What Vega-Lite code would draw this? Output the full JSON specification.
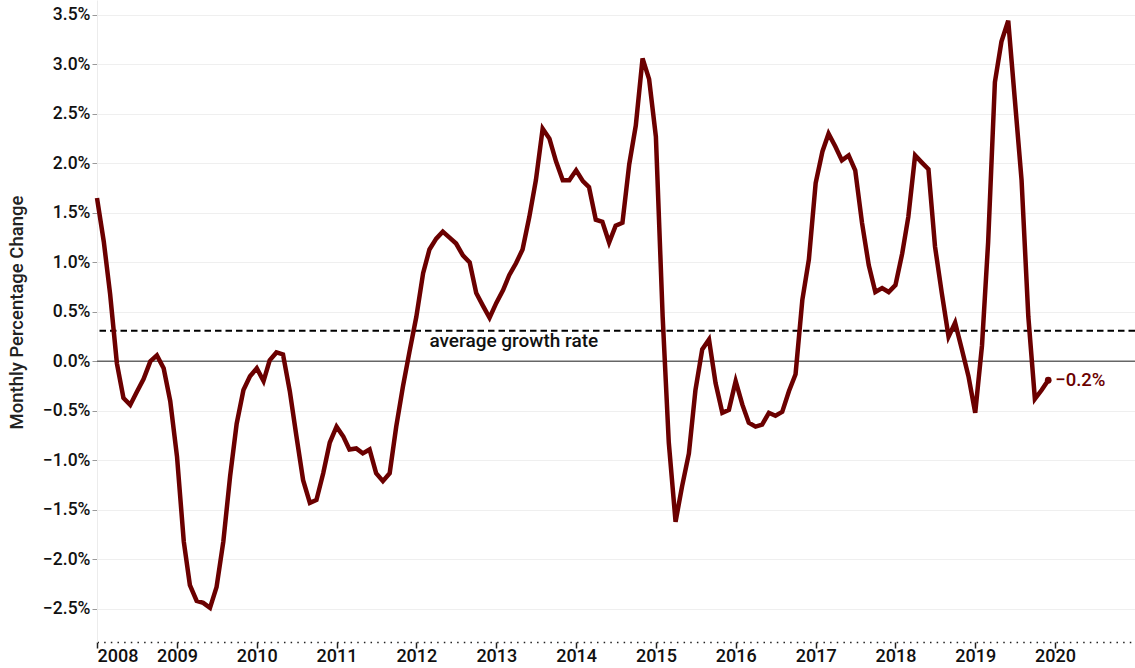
{
  "$schema": "https://vega.github.io/schema/vega-lite/v6.json",
  "width": 1038,
  "height": 642,
  "autosize": {"type": "none"},
  "padding": {"left": 97, "top": 0, "right": 0, "bottom": 26},
  "background": "white",
  "config": {
    "view": {"stroke": null},
    "font": "Roboto",
    "axis": {"labelFont": "Roboto", "titleFont": "Roboto"}
  },
  "datasets": {
    "series": [
      {"date": "2008-01-01", "value": 1.65}, {"date": "2008-02-01", "value": 1.21}, {"date": "2008-03-01", "value": 0.68}, {"date": "2008-04-01", "value": -0.02}, {"date": "2008-05-01", "value": -0.37}, {"date": "2008-06-01", "value": -0.44}, {"date": "2008-07-01", "value": -0.31}, {"date": "2008-08-01", "value": -0.18}, {"date": "2008-09-01", "value": 0.0}, {"date": "2008-10-01", "value": 0.06}, {"date": "2008-11-01", "value": -0.07}, {"date": "2008-12-01", "value": -0.40},
      {"date": "2009-01-01", "value": -0.96}, {"date": "2009-02-01", "value": -1.82}, {"date": "2009-03-01", "value": -2.26}, {"date": "2009-04-01", "value": -2.42}, {"date": "2009-05-01", "value": -2.44}, {"date": "2009-06-01", "value": -2.49}, {"date": "2009-07-01", "value": -2.28}, {"date": "2009-08-01", "value": -1.82}, {"date": "2009-09-01", "value": -1.16}, {"date": "2009-10-01", "value": -0.63}, {"date": "2009-11-01", "value": -0.29}, {"date": "2009-12-01", "value": -0.15},
      {"date": "2010-01-01", "value": -0.07}, {"date": "2010-02-01", "value": -0.20}, {"date": "2010-03-01", "value": 0.01}, {"date": "2010-04-01", "value": 0.09}, {"date": "2010-05-01", "value": 0.07}, {"date": "2010-06-01", "value": -0.30}, {"date": "2010-07-01", "value": -0.75}, {"date": "2010-08-01", "value": -1.20}, {"date": "2010-09-01", "value": -1.43}, {"date": "2010-10-01", "value": -1.40}, {"date": "2010-11-01", "value": -1.13}, {"date": "2010-12-01", "value": -0.82},
      {"date": "2011-01-01", "value": -0.66}, {"date": "2011-02-01", "value": -0.76}, {"date": "2011-03-01", "value": -0.89}, {"date": "2011-04-01", "value": -0.88}, {"date": "2011-05-01", "value": -0.93}, {"date": "2011-06-01", "value": -0.89}, {"date": "2011-07-01", "value": -1.13}, {"date": "2011-08-01", "value": -1.21}, {"date": "2011-09-01", "value": -1.13}, {"date": "2011-10-01", "value": -0.66}, {"date": "2011-11-01", "value": -0.25}, {"date": "2011-12-01", "value": 0.10},
      {"date": "2012-01-01", "value": 0.45}, {"date": "2012-02-01", "value": 0.89}, {"date": "2012-03-01", "value": 1.13}, {"date": "2012-04-01", "value": 1.24}, {"date": "2012-05-01", "value": 1.31}, {"date": "2012-06-01", "value": 1.25}, {"date": "2012-07-01", "value": 1.19}, {"date": "2012-08-01", "value": 1.07}, {"date": "2012-09-01", "value": 1.00}, {"date": "2012-10-01", "value": 0.69}, {"date": "2012-11-01", "value": 0.56}, {"date": "2012-12-01", "value": 0.44},
      {"date": "2013-01-01", "value": 0.59}, {"date": "2013-02-01", "value": 0.72}, {"date": "2013-03-01", "value": 0.87}, {"date": "2013-04-01", "value": 0.99}, {"date": "2013-05-01", "value": 1.13}, {"date": "2013-06-01", "value": 1.46}, {"date": "2013-07-01", "value": 1.83}, {"date": "2013-08-01", "value": 2.35}, {"date": "2013-09-01", "value": 2.25}, {"date": "2013-10-01", "value": 2.02}, {"date": "2013-11-01", "value": 1.83}, {"date": "2013-12-01", "value": 1.83},
      {"date": "2014-01-01", "value": 1.93}, {"date": "2014-02-01", "value": 1.82}, {"date": "2014-03-01", "value": 1.76}, {"date": "2014-04-01", "value": 1.43}, {"date": "2014-05-01", "value": 1.41}, {"date": "2014-06-01", "value": 1.20}, {"date": "2014-07-01", "value": 1.37}, {"date": "2014-08-01", "value": 1.40}, {"date": "2014-09-01", "value": 1.99}, {"date": "2014-10-01", "value": 2.38}, {"date": "2014-11-01", "value": 3.06}, {"date": "2014-12-01", "value": 2.85},
      {"date": "2015-01-01", "value": 2.27}, {"date": "2015-02-01", "value": 0.45}, {"date": "2015-03-01", "value": -0.82}, {"date": "2015-04-01", "value": -1.62}, {"date": "2015-05-01", "value": -1.26}, {"date": "2015-06-01", "value": -0.93}, {"date": "2015-07-01", "value": -0.29}, {"date": "2015-08-01", "value": 0.12}, {"date": "2015-09-01", "value": 0.22}, {"date": "2015-10-01", "value": -0.22}, {"date": "2015-11-01", "value": -0.52}, {"date": "2015-12-01", "value": -0.49},
      {"date": "2016-01-01", "value": -0.20}, {"date": "2016-02-01", "value": -0.44}, {"date": "2016-03-01", "value": -0.62}, {"date": "2016-04-01", "value": -0.66}, {"date": "2016-05-01", "value": -0.64}, {"date": "2016-06-01", "value": -0.52}, {"date": "2016-07-01", "value": -0.55}, {"date": "2016-08-01", "value": -0.51}, {"date": "2016-09-01", "value": -0.30}, {"date": "2016-10-01", "value": -0.13}, {"date": "2016-11-01", "value": 0.62}, {"date": "2016-12-01", "value": 1.03},
      {"date": "2017-01-01", "value": 1.80}, {"date": "2017-02-01", "value": 2.12}, {"date": "2017-03-01", "value": 2.30}, {"date": "2017-04-01", "value": 2.17}, {"date": "2017-05-01", "value": 2.03}, {"date": "2017-06-01", "value": 2.08}, {"date": "2017-07-01", "value": 1.93}, {"date": "2017-08-01", "value": 1.40}, {"date": "2017-09-01", "value": 0.97}, {"date": "2017-10-01", "value": 0.70}, {"date": "2017-11-01", "value": 0.74}, {"date": "2017-12-01", "value": 0.70},
      {"date": "2018-01-01", "value": 0.77}, {"date": "2018-02-01", "value": 1.09}, {"date": "2018-03-01", "value": 1.46}, {"date": "2018-04-01", "value": 2.08}, {"date": "2018-05-01", "value": 2.01}, {"date": "2018-06-01", "value": 1.94}, {"date": "2018-07-01", "value": 1.16}, {"date": "2018-08-01", "value": 0.69}, {"date": "2018-09-01", "value": 0.25}, {"date": "2018-10-01", "value": 0.39}, {"date": "2018-11-01", "value": 0.12}, {"date": "2018-12-01", "value": -0.15},
      {"date": "2019-01-01", "value": -0.52}, {"date": "2019-02-01", "value": 0.16}, {"date": "2019-03-01", "value": 1.20}, {"date": "2019-04-01", "value": 2.82}, {"date": "2019-05-01", "value": 3.23}, {"date": "2019-06-01", "value": 3.44}, {"date": "2019-07-01", "value": 2.65}, {"date": "2019-08-01", "value": 1.83}, {"date": "2019-09-01", "value": 0.45}, {"date": "2019-10-01", "value": -0.38}, {"date": "2019-11-01", "value": -0.29}, {"date": "2019-12-01", "value": -0.19}
    ],
    "last": [{"date": "2019-12-01", "value": -0.19}],
    "refs": [{"name": "zero", "level": 0}, {"name": "average", "level": 0.31}]
  },
  "layer": [
    {
      "data": {"name": "refs"},
      "transform": [{"filter": "datum.name == 'zero'"}],
      "mark": {"type": "rule", "color": "#666666", "strokeWidth": 1.5},
      "encoding": {"y": {"field": "level", "type": "quantitative"}}
    },
    {
      "data": {"name": "refs"},
      "transform": [{"filter": "datum.name == 'average'"}],
      "mark": {"type": "rule", "color": "#000000", "strokeWidth": 2, "strokeDash": [6.5, 4]},
      "encoding": {"y": {"field": "level", "type": "quantitative"}}
    },
    {
      "data": {"name": "refs"},
      "transform": [{"filter": "datum.name == 'average'"}],
      "mark": {"type": "text", "text": "average growth rate", "align": "left", "baseline": "top", "dy": 1, "fontSize": 19, "fontWeight": 500, "font": "Roboto", "color": "#111111", "letterSpacing": 0.9},
      "encoding": {
        "x": {"datum": {"year": 2012, "month": 3, "date": 1, "utc": true}, "type": "temporal"},
        "y": {"field": "level", "type": "quantitative"}
      }
    },
    {
      "data": {"name": "series"},
      "mark": {"type": "line", "color": "#6b0000", "strokeWidth": 4.5},
      "encoding": {
        "x": {
          "field": "date", "type": "temporal",
          "scale": {"type": "utc", "domain": [{"year": 2008, "month": 1, "date": 1, "utc": true}, {"year": 2021, "month": 1, "date": 1, "utc": true}]},
          "axis": {
            "title": null,
            "format": "%Y",
            "values": [
              {"year": 2008, "month": 1, "date": 1, "utc": true}, {"year": 2009, "month": 1, "date": 1, "utc": true}, {"year": 2010, "month": 1, "date": 1, "utc": true}, {"year": 2011, "month": 1, "date": 1, "utc": true}, {"year": 2012, "month": 1, "date": 1, "utc": true}, {"year": 2013, "month": 1, "date": 1, "utc": true}, {"year": 2014, "month": 1, "date": 1, "utc": true}, {"year": 2015, "month": 1, "date": 1, "utc": true}, {"year": 2016, "month": 1, "date": 1, "utc": true}, {"year": 2017, "month": 1, "date": 1, "utc": true}, {"year": 2018, "month": 1, "date": 1, "utc": true}, {"year": 2019, "month": 1, "date": 1, "utc": true}, {"year": 2020, "month": 1, "date": 1, "utc": true}
            ],
            "grid": false,
            "domain": true,
            "domainColor": "#222222",
            "domainWidth": 1.5,
            "domainDash": [1.5, 5.16],
            "ticks": true,
            "tickColor": "#222222",
            "tickSize": 6,
            "tickWidth": 1.5,
            "labelFlush": true,
            "labelFontSize": 18,
            "labelFontWeight": 500,
            "labelColor": "#111111",
            "labelPadding": -1
          }
        },
        "y": {
          "field": "value", "type": "quantitative",
          "scale": {"domain": [-2.835, 3.65], "nice": false, "zero": false},
          "axis": {
            "title": "Monthly Percentage Change",
            "titleFontSize": 18.5,
            "titleFontWeight": 500,
            "titleColor": "#222222",
            "titleX": -90,
            "titleY": 312,
            "titleBaseline": "top",
            "titleAngle": -90,
            "titleAlign": "center",
            "values": [-2.5, -2, -1.5, -1, -0.5, 0, 0.5, 1, 1.5, 2, 2.5, 3, 3.5],
            "labelExpr": "format(datum.value, '.1f') + '%'",
            "labelFontSize": 17.5,
            "labelFontWeight": 500,
            "labelColor": "#111111",
            "labelPadding": 2,
            "tickSize": 5,
            "tickColor": "#999999",
            "grid": true,
            "gridColor": "#efefef",
            "gridWidth": 1,
            "domain": true,
            "domainColor": "#ececec"
          }
        }
      }
    },
    {
      "data": {"name": "last"},
      "mark": {"type": "point", "filled": true, "color": "#6b0000", "size": 45, "opacity": 1},
      "encoding": {
        "x": {"field": "date", "type": "temporal"},
        "y": {"field": "value", "type": "quantitative"}
      }
    },
    {
      "data": {"name": "last"},
      "mark": {"type": "text", "align": "left", "baseline": "middle", "dx": 7, "dy": 0, "fontSize": 18.5, "font": "Roboto", "fontWeight": 500, "color": "#6b0000", "text": "−0.2%"},
      "encoding": {
        "x": {"field": "date", "type": "temporal"},
        "y": {"field": "value", "type": "quantitative"}
      }
    }
  ]
}
